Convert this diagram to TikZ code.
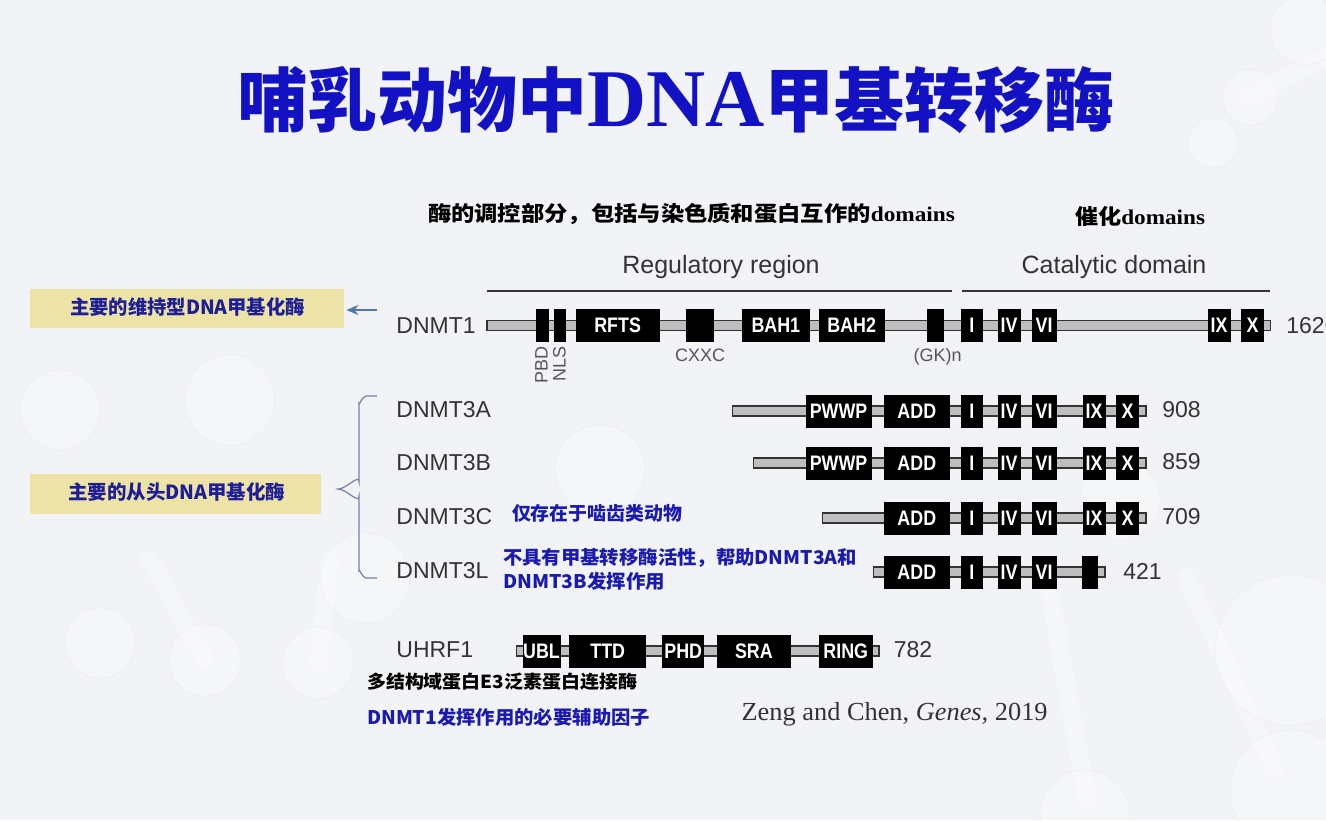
\documentclass[tikz,border=0pt]{standalone}
\usepackage{fontspec}
\usepackage{graphicx}
\setmainfont{Liberation Sans}
\newfontfamily\cjk{Noto Sans CJK SC}
\newfontfamily\serif{Liberation Serif}
\newfontfamily\boxfont{Liberation Sans}[FakeStretch=0.85]
\usetikzlibrary{arrows.meta}

\definecolor{titleblue}{HTML}{1212C4}
\definecolor{navy}{HTML}{1E1E96}
\definecolor{annblue}{HTML}{1A1AB0}
\definecolor{txtgray}{HTML}{333333}
\definecolor{labgray}{HTML}{555555}
\definecolor{boxyellow}{HTML}{EDE3A6}
\definecolor{bargray}{HTML}{BEBEBE}
\definecolor{bg}{HTML}{F2F3F6}
\definecolor{arrowblue}{HTML}{5577B0}
\definecolor{bracecol}{HTML}{7282A6}

% stretch a box horizontally to a given width, keeping its height
\newsavebox\fitbox
\newcommand\fitx[2]{\sbox\fitbox{#2}\pgfmathsetmacro\fitr{(#1)/\wd\fitbox}\scalebox{\fitr}[1]{\usebox\fitbox}}

% protein backbone bar and black domain boxes
\newcommand\protbar[4]{\node[pbar, minimum width={(#3-#2)*0.5pt}] (#1) at ({(#2+#3)/2},#4) {};}
\newcommand\dom[5]{\node[dom, minimum width={(#3-#2)*0.5pt}] (#1) at ({(#2+#3)/2},#4) {#5};}

\begin{document}
\begin{tikzpicture}[x=0.5pt,y=-0.5pt,
  pbar/.style={rectangle, fill=bargray, draw=txtgray, line width=0.7pt, minimum height=5pt, inner sep=0pt},
  dom/.style={rectangle, fill=black, draw=black, minimum height=16pt, inner sep=0pt, text=white,
    font=\boxfont\bfseries\fontsize{10.5}{10.5}\selectfont},
  rowlab/.style={anchor=west, inner sep=0pt, text=txtgray, font=\fontsize{11.5}{11.5}\selectfont},
  smalllab/.style={inner sep=0pt, text=labgray, font=\fontsize{9}{9}\selectfont},
  hdr/.style={inner sep=0pt, text=txtgray, font=\fontsize{12.5}{12.5}\selectfont, anchor=base},
  ybox/.style={rectangle, fill=boxyellow, inner sep=0pt},
  mol/.style={fill=white, fill opacity=0.28, draw=black, draw opacity=0.025, line width=0.5pt},
  stick/.style={draw=white, draw opacity=0.3, line width=9pt, line cap=round}]

\useasboundingbox (0,0) rectangle (1326,820);
\clip (0,0) rectangle (1326,820);
\fill[bg] (0,0) rectangle (1326,820);

% faint molecule pattern
\draw[stick] (1250,97) -- (1330,55);
\draw[stick] (1050,593) -- (1087,800);
\draw[stick] (1187,578) -- (1275,770);
\draw[stick] (205,660) -- (150,560);
\draw[stick] (318,663) -- (330,560);
\foreach \cx/\cy/\r in {1250/97/28, 1213/143/25, 1305/30/35, 1290/650/75, 1290/790/60, 1085/815/45,
    100/643/35, 205/660/36, 318/663/36, 365/578/45, 230/400/45, 60/410/40, 600/470/45, 1120/500/40}
  \path[mol] (\cx,\cy) circle (\r);

% title
\node (title) at (676,100) {\color{titleblue}\fitx{438.5pt}{{\cjk\bfseries\fontsize{35}{35}\selectfont 哺乳动物中}{\serif\bfseries\fontsize{41}{41}\selectfont DNA}{\cjk\bfseries\fontsize{35}{35}\selectfont 甲基转移酶}}};

% region headers
\node (hreg) at (691.5,214) {\fitx{263.5pt}{{\cjk\bfseries\fontsize{10.5}{10.5}\selectfont 酶的调控部分，包括与染色质和蛋白互作的}{\serif\bfseries\fontsize{10.5}{10.5}\selectfont domains}}};
\node (hcat) at (1140,216) {\fitx{65pt}{{\cjk\bfseries\fontsize{10.5}{10.5}\selectfont 催化}{\serif\bfseries\fontsize{10.5}{10.5}\selectfont domains}}};
\node[hdr] (regtxt) at (721,273) {Regulatory region};
\node[hdr] (cattxt) at (1114,273) {Catalytic domain};
\coordinate (rl1) at (487,291);
\coordinate (rl2) at (952,291);
\coordinate (cl1) at (962,291);
\coordinate (cl2) at (1270,291);
\draw[txtgray, line width=1pt] (rl1) -- (rl2);
\draw[txtgray, line width=1pt] (cl1) -- (cl2);

% DNMT1
\node[rowlab] (n1) at (396,325.5) {DNMT1};
\protbar{b1}{487}{1270.5}{325.5}
\dom{d1pbd}{536.7}{548.3}{325.5}{}
\dom{d1nls}{554.3}{565}{325.5}{}
\dom{d1rfts}{576}{659.3}{325.5}{RFTS}
\dom{d1cxxc}{686}{713.3}{325.5}{}
\dom{d1bah1}{742.7}{809}{325.5}{BAH1}
\dom{d1bah2}{819.3}{884}{325.5}{BAH2}
\dom{d1gk}{927.7}{943.3}{325.5}{}
\dom{d1i}{961}{982.7}{325.5}{I}
\dom{d1iv}{998.3}{1020}{325.5}{IV}
\dom{d1vi}{1032.3}{1056}{325.5}{VI}
\dom{d1ix}{1208.3}{1230}{325.5}{IX}
\dom{d1x}{1241.7}{1263.3}{325.5}{X}
\node[rowlab] (len1) at (1286,325.5) {1620};
\node[smalllab, rotate=90, anchor=east] (lpbd) at (541.5,346) {PBD};
\node[smalllab, rotate=90, anchor=east] (lnls) at (559.5,346) {NLS};
\node[smalllab] (lcxxc) at (700,355) {CXXC};
\node[smalllab] (lgk) at (937.5,357) {(GK)n};

% DNMT3A
\node[rowlab] (n3a) at (396,410) {DNMT3A};
\protbar{b3a}{732.7}{1146}{411}
\dom{a1}{806}{871}{411}{PWWP}
\dom{a2}{884.3}{949.3}{411}{ADD}
\dom{a3}{961}{982.7}{411}{I}
\dom{a4}{998.3}{1020}{411}{IV}
\dom{a5}{1032.3}{1056}{411}{VI}
\dom{a6}{1083.3}{1105}{411}{IX}
\dom{a7}{1116.7}{1138.3}{411}{X}
\node[rowlab] (len3a) at (1162,410) {908};

% DNMT3B
\node[rowlab] (n3b) at (396,463) {DNMT3B};
\protbar{b3b}{753.3}{1146}{463}
\dom{b1}{806}{871}{463}{PWWP}
\dom{b2}{884.3}{949.3}{463}{ADD}
\dom{b3}{961}{982.7}{463}{I}
\dom{b4}{998.3}{1020}{463}{IV}
\dom{b5}{1032.3}{1056}{463}{VI}
\dom{b6}{1083.3}{1105}{463}{IX}
\dom{b7}{1116.7}{1138.3}{463}{X}
\node[rowlab] (len3b) at (1162,462) {859};

% DNMT3C
\node[rowlab] (n3c) at (396,517) {DNMT3C};
\protbar{b3c}{822.7}{1146}{518}
\dom{c2}{884.3}{949.3}{518}{ADD}
\dom{c3}{961}{982.7}{518}{I}
\dom{c4}{998.3}{1020}{518}{IV}
\dom{c5}{1032.3}{1056}{518}{VI}
\dom{c6}{1083.3}{1105}{518}{IX}
\dom{c7}{1116.7}{1138.3}{518}{X}
\node[rowlab] (len3c) at (1162,517) {709};

% DNMT3L
\node[rowlab] (n3l) at (396,571) {DNMT3L};
\protbar{b3l}{873.3}{1105}{572}
\dom{l2}{884.3}{949.3}{572}{ADD}
\dom{l3}{961}{982.7}{572}{I}
\dom{l4}{998.3}{1020}{572}{IV}
\dom{l5}{1032.3}{1056}{572}{VI}
\dom{l6}{1082.7}{1097.3}{572}{}
\node[rowlab] (len3l) at (1123,571) {421};

% UHRF1
\node[rowlab] (nu) at (396,650) {UHRF1};
\protbar{bu}{516.3}{878.8}{651}
\dom{u1}{523}{560}{651}{UBL}
\dom{u2}{569.8}{645.7}{651}{TTD}
\dom{u3}{662.7}{703.8}{651}{PHD}
\dom{u4}{717}{790.8}{651}{SRA}
\dom{u5}{819}{872.5}{651}{RING}
\node[rowlab] (lenu) at (893.5,650) {782};

% annotations
\node[anchor=west, inner sep=0pt] (ann3c) at (511.7,513) {\color{annblue}\fitx{85pt}{\cjk\bfseries\fontsize{9.4}{9.4}\selectfont 仅存在于啮齿类动物}};
\node[anchor=west, inner sep=0pt] (ann3la) at (502.7,558) {\color{annblue}\fitx{177pt}{\cjk\bfseries\fontsize{9.4}{9.4}\selectfont 不具有甲基转移酶活性，帮助DNMT3A和}};
\node[anchor=west, inner sep=0pt] (ann3lb) at (502.7,581) {\color{annblue}\fitx{81pt}{\cjk\bfseries\fontsize{9.4}{9.4}\selectfont DNMT3B发挥作用}};
\node[anchor=west, inner sep=0pt] (annu1) at (366.7,682) {\color{black}\fitx{135pt}{\cjk\bfseries\fontsize{9}{9}\selectfont 多结构域蛋白E3泛素蛋白连接酶}};
\node[anchor=west, inner sep=0pt] (annu2) at (366.7,717) {\color{annblue}\fitx{141.5pt}{\cjk\bfseries\fontsize{9.4}{9.4}\selectfont DNMT1发挥作用的必要辅助因子}};
\node[inner sep=0pt] (cite) at (894.6,714) {\color{txtgray}\fitx{153pt}{\serif\fontsize{13}{13}\selectfont Zeng and Chen, \textit{Genes,} 2019}};

% left boxes
\node[ybox, minimum width=157pt, minimum height=19.5pt] (ybox1) at (187,308.5) {};
\node (box1) at (187.5,307) {\color{navy}\fitx{117.5pt}{\cjk\bfseries\fontsize{9.75}{9.75}\selectfont 主要的维持型DNA甲基化酶}};
\node[ybox, minimum width=145.5pt, minimum height=20pt] (ybox2) at (175.5,494) {};
\node (box2) at (176.7,492) {\color{navy}\fitx{108.5pt}{\cjk\bfseries\fontsize{9.75}{9.75}\selectfont 主要的从头DNA甲基化酶}};

% arrow to the maintenance box
\coordinate (atail) at (377,310);
\draw[arrowblue, line width=0.6pt, -{Stealth[length=6pt,width=5pt]}, shorten >=1pt] (atail) -- (ybox1.east |- atail);

% brace over the de novo group
\coordinate (btop) at (377,396);
\coordinate (bbot) at (377,578);
\coordinate (btip) at (338,489);
\draw[bracecol, line width=0.6pt] (btop) -- (366,396) to[out=180,in=-90] (359,403) -- (359,482)
  to[out=90,in=0] (btip) to[out=0,in=-90] (359,496) -- (359,571) to[out=90,in=180] (366,578) -- (bbot);
\end{tikzpicture}
\end{document}
